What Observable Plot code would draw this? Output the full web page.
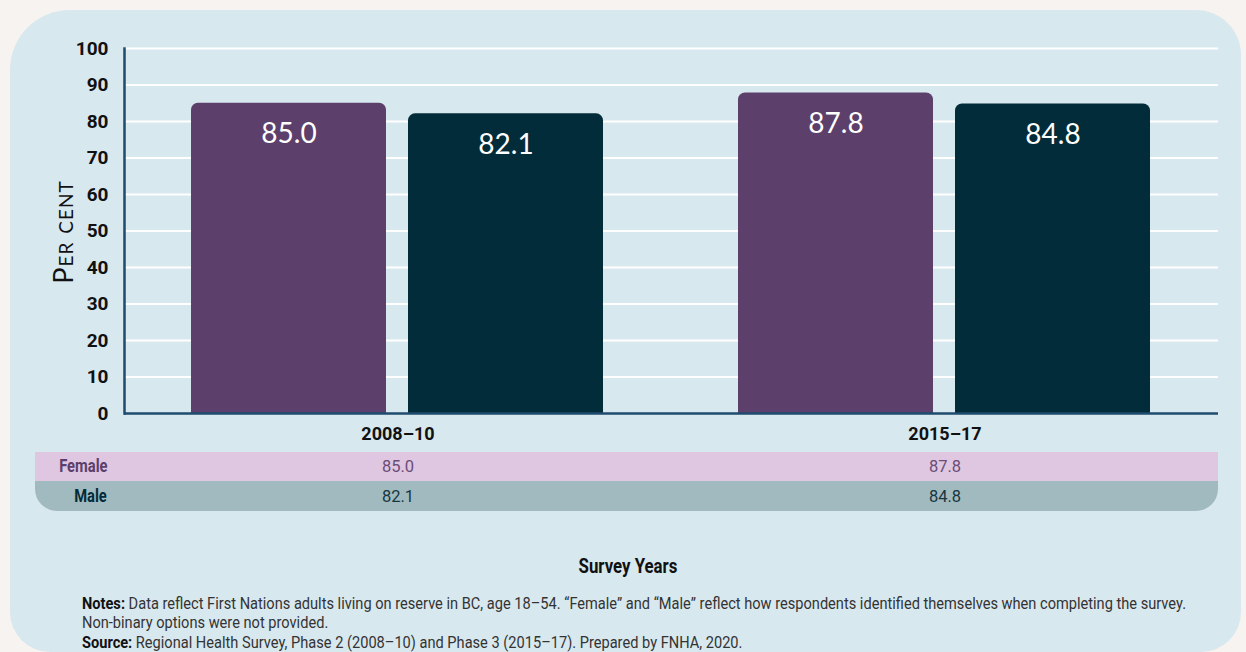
<!DOCTYPE html>
<html>
<head>
<meta charset="utf-8">
<script src="https://cdn.jsdelivr.net/npm/d3@7"></script>
<script src="https://cdn.jsdelivr.net/npm/@observablehq/plot@0.6"></script>
<style>
  html, body { margin: 0; padding: 0; }
  body { width: 1246px; height: 652px; background: #f6f3f0; position: relative; overflow: hidden; }
  #panel { position: absolute; left: 10px; top: 10px; width: 1231px; height: 642px; background: #d8e8ef;
           border-radius: 60px 45px 40px 40px; }
  .cond { font-family: Roboto, "Liberation Sans", sans-serif; }
  .row { position: absolute; left: 35px; width: 1183px; }
  #rowF { top: 452px; height: 29px; background: #e0c7e1; }
  #rowM { top: 481px; height: 30px; background: #a1babf; border-radius: 0 0 22px 22px; }
  .rowlab { position: absolute; font-weight: bold; font-size: 17.5px; line-height: 1; transform: scaleX(0.84); transform-origin: right center; }
  #chart { position: absolute; left: 0; top: 0; }
  #ylabel { position: absolute; left: 62px; top: 232px; transform: translate(-50%, -50%) rotate(-90deg);
            font-family: "Lato", "Open Sans", sans-serif; font-variant: small-caps; font-size: 27px; color: #111; white-space: nowrap; letter-spacing: 1px; }
  #xtitle { position: absolute; left: 628px; top: 566px; transform: translate(-50%, -50%) scaleX(0.84); font-weight: bold; font-size: 20px; color: #111; white-space: nowrap; }
  #notes { position: absolute; left: 82px; top: 595px; font-size: 16.5px; color: #333; line-height: 18.5px; transform-origin: left top; white-space: nowrap; }
  #notes b { color: #111; }
</style>
</head>
<body>
<div id="panel"></div>
<div id="rowF" class="row"></div>
<div id="rowM" class="row"></div>
<div id="chart"></div>
<div id="ylabel">Per cent</div>
<div id="xtitle" class="cond">Survey Years</div>
<div id="notes" class="cond">
  <div id="note1"><span id="note1text"><b>Notes:</b> Data reflect First Nations adults living on reserve in BC, age 18–54. “Female” and “Male” reflect how respondents identified themselves when completing the survey.</span></div>
  <div>Non-binary options were not provided.</div>
  <div style="margin-top:2px"><b>Source:</b> Regional Health Survey, Phase 2 (2008–10) and Phase 3 (2015–17). Prepared by FNHA, 2020.</div>
</div>
<script>
// ---- data ----
const years = ["2008–10", "2015–17"];
const sexes = ["Female", "Male"];
const femaleValues = [85.0, 87.8];
const maleValues = [82.1, 84.8];
const yTicks = [0, 10, 20, 30, 40, 50, 60, 70, 80, 90, 100];
const barColors = ["#5c406b", "#032c3a"];
const rowTextColors = ["#5c406b", "#032c3a"];

const data = years.flatMap((yr, i) => [
  {year: yr, sex: sexes[0], value: femaleValues[i]},
  {year: yr, sex: sexes[1], value: maleValues[i]}
]);

// row labels
[["rowF", sexes[0], rowTextColors[0], "6px"], ["rowM", sexes[1], rowTextColors[1], "7px"]].forEach(([id, txt, col, top]) => {
  const d = document.createElement("div");
  d.className = "rowlab cond";
  d.textContent = txt;
  d.style.color = col;
  d.style.right = "1111px";
  d.style.top = top;
  document.getElementById(id).appendChild(d);
});

// condense the notes to the reference width
const n1 = document.getElementById("note1text").getBoundingClientRect().width;
document.getElementById("notes").style.transform = `scaleX(${1104 / n1})`;

const condFont = 'Roboto, "Liberation Sans", sans-serif';

const plot = Plot.plot({
  width: 1246,
  height: 530,
  marginLeft: 123,
  marginRight: 28,
  marginTop: 48,
  marginBottom: 117,
  style: {background: "transparent", overflow: "visible", fontFamily: condFont},
  fx: {domain: years, padding: 0, label: null},
  x: {domain: sexes, paddingInner: 0.1, paddingOuter: 0.305, axis: null},
  y: {domain: [0, 100], ticks: yTicks, label: null},
  color: {domain: sexes, range: barColors},
  marks: [
    Plot.gridY(yTicks.filter(t => t > 0), {stroke: "white", strokeOpacity: 1, strokeWidth: 2}),
    Plot.barY(data, {fx: "year", x: "sex", y: "value", fill: "sex", rx: 7}),
    Plot.barY(data, {fx: "year", x: "sex", y1: 0, y2: d => d.value - 5, fill: "sex"}),
    Plot.text(data, {fx: "year", x: "sex", y: "value", text: d => d.value.toFixed(1), dy: 31,
      fill: "white", fontSize: 28, fontFamily: "Lato, 'Open Sans', sans-serif"}),
    Plot.ruleY([0], {stroke: "#1f4b6e", strokeWidth: 2.5}),
    Plot.frame({anchor: "left", facetAnchor: "left", stroke: "#1f4b6e", strokeWidth: 2.5}),
    Plot.axisY(yTicks, {tickSize: 0, tickPadding: 16, fontSize: 19, fontWeight: "bold", fill: "#111", label: null}),
    Plot.axisFx({anchor: "bottom", tickSize: 0, tickPadding: 14, fontSize: 18, fontWeight: "bold", fill: "#111", label: null}),
    Plot.text(data.filter(d => d.sex === sexes[0]), {fx: "year", frameAnchor: "bottom", lineAnchor: "middle",
      text: d => d.value.toFixed(1), dy: 53, fontSize: 16.5, fill: "#6a4d78"}),
    Plot.text(data.filter(d => d.sex === sexes[1]), {fx: "year", frameAnchor: "bottom", lineAnchor: "middle",
      text: d => d.value.toFixed(1), dy: 83, fontSize: 16.5, fill: "#17363f"})
  ]
});
document.getElementById("chart").appendChild(plot);
</script>
</body>
</html>
